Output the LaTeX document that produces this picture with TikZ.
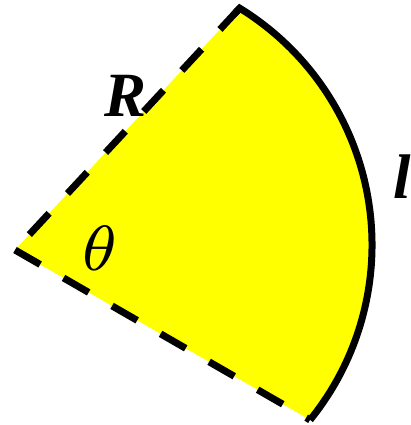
\documentclass[tikz,border=0pt]{standalone}
\usepackage{graphicx}
\usepackage{fontspec}
\setmainfont{Liberation Serif}
\usetikzlibrary{calc}
\definecolor{fillyellow}{RGB}{255,255,0}
\begin{document}
\begin{tikzpicture}[x=1pt,y=-1pt,
  edge/.style={line width=7pt,dash pattern=on 29pt off 27pt},
  rim/.style={line width=7pt,line join=miter},
  lab/.style={inner sep=0pt,font=\fontsize{63}{70}\selectfont\bfseries\itshape}]
\useasboundingbox (0,0) rectangle (410,425);
\coordinate (O) at (15,250);
\coordinate (C) at (94,245);
\coordinate (A) at (239.7,8.2);
\coordinate (B) at (310.0,419.9);
\fill[fillyellow] (O) -- (A) arc[start angle=-58.4,end angle=39,radius=278] -- cycle;
\draw[edge] (A) -- (O);
\draw[edge] (O) -- (B);
\draw[rim] ($(A)!8pt!(O)$) -- (A) arc[start angle=-58.4,end angle=39,radius=278];
\node[lab] (R) at (126,96) {R};
\node[inner sep=0pt] (th) at (99.5,248.5) {\scalebox{9.14}{$\scriptstyle\theta$}};
\node[lab] (l) at (402,176.5) {l};
\end{tikzpicture}
\end{document}
